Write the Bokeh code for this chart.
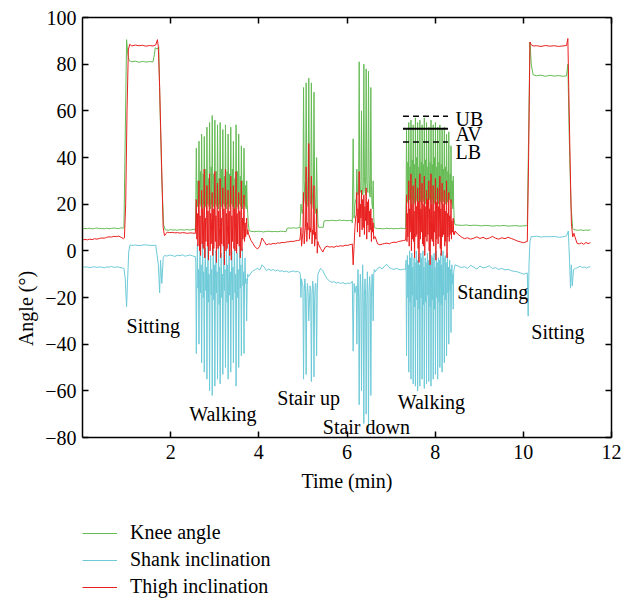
import numpy as np
from bokeh.plotting import figure
from bokeh.models import Legend, LegendItem, LinearAxis, FixedTicker, Range1d, Title
from bokeh.embed import file_html
from bokeh.resources import INLINE
from bokeh.core.properties import value

# ---------------- data (time in min, angle in degrees) ----------------
# Knee angle
knee_rest0 = [9.4, 9.6, 9.5, 9.7, 9.4, 9.6, 9.8, 9.5, 9.6, 9.4, 9.7, 9.5, 9.6, 9.8, 9.6, 9.5, 9.9, 9.7]
knee_sit1_t = [0.94, 0.97, 1.00, 1.03, 1.06, 1.12, 1.20, 1.28, 1.36, 1.44, 1.52, 1.60, 1.63, 1.65, 1.70, 1.73, 1.76, 1.80, 1.84, 1.88]
knee_sit1 = [10.0, 50.0, 90.5, 84.0, 81.5, 81.0, 81.3, 80.8, 81.2, 80.9, 81.1, 81.0, 84.0, 87.0, 86.5, 87.5, 60.0, 30.0, 11.0, 9.0]
knee_rest1 = [9.0, 8.8, 9.1, 8.9, 9.0, 8.8, 9.1, 9.0, 8.9, 9.1, 9.0, 8.9, 9.2, 9.0]
knee_walk1 = [20, 44, 24, 19, 30, 18, 47, 26, 20, 34, 19, 50, 25, 18, 33, 20, 49, 27, 19, 35,
              18, 53, 24, 20, 31, 19, 55, 28, 18, 36, 20, 58, 26, 19, 33, 18, 56, 25, 20, 34,
              19, 54, 27, 18, 31, 20, 55, 24, 19, 35, 18, 52, 26, 20, 32, 19, 54, 28, 18, 34,
              20, 50, 25, 19, 33, 18, 53, 27, 20, 35, 19, 47, 24, 18, 31, 20, 54, 26, 19, 34,
              18, 50, 25, 20, 32, 19, 45, 27, 18, 30, 20, 44, 24, 19, 28, 18, 30, 20, 16, 12]
knee_rest2a = [8.6, 8.3, 8.2, 8.4, 8.3, 8.1, 8.3, 8.4, 8.2, 8.3, 8.2, 8.4, 8.3, 8.2]
knee_rest2b = [9.6, 9.8, 9.7, 9.9, 9.7, 9.8, 10.0]
knee_stairup = [12, 20, 18, 16, 18, 70, 30, 22, 20, 72, 35, 24, 19, 74, 32, 22,
                20, 72, 30, 21, 18, 68, 28, 20, 16, 40, 20, 12]
knee_rest3a = [10.2, 10.0, 10.1, 10.0]
knee_rest3b = [12.8, 13.0, 12.9, 13.1, 13.0, 12.9, 13.2, 13.0, 13.1, 12.9, 13.0, 13.1]
knee_stairdn_a = [12, 48, 14, 20, 22]
knee_stairdn_b = [22, 35, 25, 24, 24, 81, 30, 26, 25, 60, 28, 24, 26, 80, 32, 25,
                  24, 78, 30, 26, 25, 77, 33, 24, 23, 70, 28, 20, 18, 30, 14, 10]
knee_rest4 = [9.8, 9.5, 9.6, 9.4, 9.5, 9.7, 9.5, 9.6, 9.4, 9.6, 9.5, 9.7, 9.6, 9.5]
knee_walk2 = [22, 52, 30, 21, 38, 20, 55, 32, 22, 36, 21, 56, 29, 20, 39, 22, 54, 31, 21, 37,
              20, 57, 33, 22, 40, 21, 55, 30, 20, 36, 22, 56, 32, 21, 38, 20, 54, 29, 22, 37,
              21, 57, 31, 20, 39, 22, 55, 33, 21, 36, 20, 53, 30, 22, 38, 21, 56, 32, 20, 37,
              22, 54, 29, 21, 40, 20, 55, 31, 22, 36, 21, 53, 33, 20, 38, 22, 54, 30, 21, 37,
              20, 52, 32, 22, 35, 21, 53, 29, 20, 36, 22, 50, 31, 21, 34, 20, 51, 28, 22, 33,
              21, 45, 26, 20, 30, 18, 32, 20, 14, 12]
knee_rest5 = [11.2, 11.0, 10.9, 11.1, 10.8, 11.0, 10.9, 10.7, 10.9, 10.8, 10.6, 10.8, 10.7, 10.9,
              10.6, 10.7, 10.8, 10.6, 10.7, 10.8]
knee_sit2_t = [10.09, 10.12, 10.15, 10.18, 10.22, 10.30, 10.40, 10.50, 10.60, 10.70, 10.80, 10.90,
               10.98, 11.01, 11.04, 11.08, 11.12]
knee_sit2 = [10.8, 50.0, 89.5, 80.0, 75.5, 75.0, 75.3, 74.8, 75.2, 74.9, 75.1, 74.8, 75.0, 80.0, 50.0, 20.0, 9.5]
knee_rest6 = [9.2, 8.9, 8.8, 9.0, 8.7, 8.9, 8.8, 9.0]

# Thigh inclination
thigh_rest0 = [4.6, 4.9, 4.7, 5.0, 4.8, 5.2, 5.0, 5.3, 5.5, 5.4, 5.8, 6.0, 5.9, 6.2, 6.1, 6.3, 5.8, 5.2]
thigh_sit1_t = [0.95, 0.98, 1.01, 1.04, 1.07, 1.12, 1.20, 1.28, 1.36, 1.44, 1.52, 1.60, 1.66, 1.70,
                1.72, 1.75, 1.79, 1.83, 1.86, 1.90]
thigh_sit1 = [5.5, 20, 60, 86, 88.5, 87.8, 88.2, 87.9, 88.1, 87.7, 88.0, 87.8, 88.2, 90.5, 87.5,
              70, 40, 10, 6.5, 7.5]
thigh_rest1 = [8.0, 7.8, 7.9, 7.7, 7.8, 7.6, 7.8, 7.7, 7.5, 7.7, 7.6, 7.5]
thigh_walk1 = [12, 22, 5, 16, 2, 14, 30, 0, 15, -2, 10, 26, 3, 18, 1, 13, 35, -3, 14, 4,
               15, 28, 2, 17, -4, 11, 33, 0, 16, 3, 14, 25, -2, 18, 1, 12, 34, 4, 15, -5,
               16, 29, 1, 17, 2, 10, 31, -3, 14, 3, 15, 27, 2, 18, -6, 13, 35, 0, 16, 1,
               11, 26, 3, 17, -2, 14, 32, -4, 15, 4, 16, 28, 1, 18, 0, 12, 34, -1, 16, 3,
               15, 25, 2, 17, -3, 13, 30, 0, 14, 5, 11, 24, 4, 12, 6, 10, 14, 7, 9, 8]
thigh_rest2 = [7.0, 4.5, 3.0, 1.5, 0.8, 2.0, 5.5, 4.0, 2.5, 3.0, 2.8, 3.2, 3.0, 3.4, 3.3, 3.6,
               3.5, 3.8, 3.9, 4.1, 4.0, 4.3, 4.4, 4.6]
thigh_stairup = [6, 10, 2, 5, 8, 25, 3, 8, 10, 36, 4, 12, 9, 46, 5, 10,
                 8, 32, 3, 9, 7, 28, 2, 8, 5, 18, -1, 4]
thigh_rest3 = [3.0, 1.0, -0.5, 1.5, 2.0, 1.6, 1.8, 1.5, 2.0, 1.9, 2.2, 2.0, 2.4, 2.3, 2.6, 2.8]
thigh_stairdn_a = [3, -6, 2, 10, 15]
thigh_stairdn_b = [15, 25, 8, 18, 12, 34, 6, 20, 14, 26, 9, 22, 10, 24, 7, 19,
                   13, 27, 5, 21, 11, 22, 8, 17, 9, 18, 4, 14, 8, 12, 5, 6]
thigh_rest4 = [6.0, 3.0, 2.6, 2.9, 3.1, 3.3, 3.0, 3.5, 3.7, 3.6, 4.0, 4.2, 4.4, 4.6]
thigh_walk2 = [10, 24, 4, 16, 6, 14, 30, 2, 18, 8, 12, 33, 0, 20, 5, 16, 28, 4, 17, -3,
               13, 31, 6, 19, 7, 15, 27, 1, 21, -5, 11, 33, 5, 18, 8, 17, 29, 3, 20, 2,
               14, 32, -2, 19, 6, 12, 26, 4, 22, 7, 16, 30, 0, 18, -6, 13, 33, 5, 20, 4,
               15, 28, 2, 17, 8, 12, 31, -4, 21, 5, 16, 27, 3, 19, 6, 14, 32, 1, 18, -2,
               11, 29, 6, 20, 7, 15, 26, 2, 17, 4, 13, 30, -3, 16, 6, 12, 25, 4, 15, 7,
               10, 22, 5, 13, 8, 9, 14, 7, 8, 7]
thigh_rest5 = [8.5, 7.0, 6.0, 5.2, 5.6, 5.0, 5.4, 6.0, 5.3, 5.8, 5.1, 5.5, 6.2, 5.4, 5.0, 5.6,
               5.2, 5.8, 5.3, 4.8, 4.2, 3.8, 3.5, 4.0]
thigh_sit2_t = [10.09, 10.12, 10.15, 10.18, 10.22, 10.30, 10.40, 10.50, 10.60, 10.70, 10.80, 10.90,
                10.98, 11.01, 11.03, 11.06, 11.09, 11.12, 11.15]
thigh_sit2 = [4.0, 40, 89.5, 88.3, 87.8, 87.9, 87.6, 88.0, 87.7, 87.9, 87.6, 87.8, 88.0, 91.0,
              70, 40, 12, 6, 7.5]
thigh_rest6 = [6.0, 3.2, 3.0, 3.4, 2.8, 3.6, 3.1, 3.5]

# Shank inclination
shank_rest0 = [-6.8, -7.0, -6.9, -7.2, -7.0, -6.8, -7.1, -6.9, -7.0, -7.3, -6.9, -7.0, -6.7, -7.1,
               -6.9, -7.0, -7.2, -7.5]
shank_sit1_t = [0.94, 0.97, 1.00, 1.02, 1.05, 1.08, 1.12, 1.20, 1.30, 1.40, 1.50, 1.60, 1.66, 1.69,
                1.72, 1.75, 1.77, 1.80, 1.83, 1.86, 1.90]
shank_sit1 = [-7.5, -12, -24, -14, 0, 2.6, 2.3, 2.5, 2.2, 2.6, 2.4, 2.3, 2.5, -1.5, -6, -18, -4,
              -14, -3, -2.0, -2.2]
shank_rest1 = [-2.2, -1.8, -2.0, -2.4, -1.9, -2.1, -1.7, -2.3, -2.0, -1.8, -2.2, -2.5]
shank_walk1 = [-5, -44, -14, 3, -16, -8, -40, -12, 0, -18, -6, -48, -15, 4, -20, -9, -52, -11, 1, -17,
               -7, -55, -16, 2, -22, -10, -60, -13, -2, -19, -8, -62, -17, 3, -21, -6, -58, -12, 0, -18,
               -9, -55, -15, 2, -23, -7, -57, -14, -1, -20, -10, -53, -11, 3, -17, -8, -50, -16, 1, -22,
               -6, -55, -13, 4, -19, -9, -52, -15, 0, -21, -7, -48, -12, 2, -18, -10, -58, -17, -1, -20,
               -8, -50, -14, 3, -16, -6, -45, -11, 1, -15, -9, -44, -13, -3, -14, -12, -30, -15, -10, -11]
shank_rest2 = [-11, -9.5, -8.5, -8.0, -7.5, -8.2, -6.0, -7.0, -8.5, -7.8, -8.4, -8.0, -8.6, -8.2,
               -8.8, -8.5, -9.0, -8.7, -9.2, -8.9, -8.6, -9.0, -8.8, -9.3]
shank_stairup = [-10, -20, -12, -14, -15, -55, -18, -12, -16, -53, -20, -14, -18, -30, -22, -15,
                 -17, -56, -19, -13, -16, -54, -21, -14, -14, -45, -18, -10]
shank_rest3 = [-9.5, -7.5, -8.5, -10.5, -12.0, -13.0, -13.5, -13.2, -13.8, -13.5, -14.0, -13.6,
               -14.2, -13.8, -14.0, -13.5]
shank_stairdn_a = [-13, -43, -14, -18, -16]
shank_stairdn_b = [-15, -40, -18, -8, -20, -66, -22, -10, -18, -60, -25, -6, -22, -74, -20, -12,
                   -19, -70, -24, -9, -21, -77, -18, -11, -17, -62, -20, -10, -12, -30, -10, -8]
shank_rest4 = [-9, -7.5, -7.0, -7.8, -6.5, -5.8, -7.2, -7.6, -8.0, -7.5, -7.9, -8.2, -7.8, -8.0]
shank_walk2 = [-4, -45, -15, -2, -20, -6, -52, -18, 0, -22, -3, -55, -14, -1, -19, -7, -57, -20, -3, -24,
               -5, -58, -16, 0, -21, -4, -60, -19, -2, -25, -6, -58, -15, -1, -20, -3, -55, -21, 0, -23,
               -7, -59, -17, -3, -22, -5, -57, -14, -1, -19, -4, -56, -20, 0, -24, -6, -58, -16, -2, -21,
               -3, -55, -18, -1, -25, -7, -53, -15, 0, -20, -5, -55, -19, -3, -22, -4, -50, -17, -1, -23,
               -6, -52, -14, 0, -19, -3, -48, -20, -2, -21, -5, -45, -16, -1, -18, -7, -40, -15, -4, -17,
               -8, -35, -12, -6, -14, -10, -25, -9, -8, -7]
shank_rest5 = [-6.0, -6.5, -7.2, -6.8, -7.5, -6.2, -7.0, -7.8, -6.5, -7.3, -7.0, -6.4, -7.6, -7.2,
               -8.0, -7.5, -8.2, -7.9, -8.5, -8.8, -9.0, -9.5, -10.0, -9.5]
shank_sit2_t = [10.09, 10.11, 10.13, 10.15, 10.18, 10.22, 10.30, 10.40, 10.50, 10.60, 10.70, 10.80,
                10.90, 10.98, 11.02, 11.05, 11.07, 11.09, 11.11, 11.14, 11.18]
shank_sit2 = [-9.5, -28, -5, 4, 6.2, 6.0, 6.3, 5.9, 6.1, 6.0, 6.2, 5.8, 6.0, 6.4, 8.5, -5, -16, -6,
              -15, -8, -7.5]
shank_rest6 = [-7.5, -7.0, -6.6, -7.2, -6.9, -7.4, -7.0, -6.8]

# Annotations
activity_labels = ["Sitting", "Walking", "Stair up", "Stair down", "Walking", "Standing", "Sitting"]
activity_x = [1.00, 2.42, 4.42, 5.45, 7.15, 8.50, 10.18]
activity_y = [-32.0, -69.9, -63.0, -75.3, -64.9, -17.7, -34.9]
bound_labels = ["UB", "AV", "LB"]
bound_text_x = [8.46, 8.46, 8.46]
bound_text_y = [56.3, 50.1, 42.3]
bound_x0 = [7.27, 7.27, 7.27]
bound_x1 = [8.29, 8.29, 8.29]
bound_y = [57.7, 52.3, 46.6]

x_ticks = [2, 4, 6, 8, 10, 12]
y_ticks = [-80, -60, -40, -20, 0, 20, 40, 60, 80, 100]
x_min, x_max = 0, 12
y_min, y_max = -80, 100


def assemble(pieces):
    ts, vs = [], []
    for pc in pieces:
        if len(pc) == 3:
            t0, t1, vals = pc
            ts += list(np.linspace(t0, t1, len(vals)))
        else:
            tl, vals = pc
            ts += list(tl)
        vs += list(vals)
    return ts, vs


knee_x, knee_y = assemble([
    (0.00, 0.93, knee_rest0), (knee_sit1_t, knee_sit1), (1.90, 2.56, knee_rest1),
    (2.57, 3.76, knee_walk1), (3.78, 4.62, knee_rest2a), (4.64, 4.93, knee_rest2b),
    (4.94, 5.34, knee_stairup), (5.35, 5.46, knee_rest3a), (5.48, 6.11, knee_rest3b),
    (6.12, 6.20, knee_stairdn_a), (6.21, 6.62, knee_stairdn_b), (6.64, 7.33, knee_rest4),
    (7.34, 8.44, knee_walk2), (8.45, 10.08, knee_rest5), (knee_sit2_t, knee_sit2),
    (11.14, 11.52, knee_rest6)])
thigh_x, thigh_y = assemble([
    (0.00, 0.93, thigh_rest0), (thigh_sit1_t, thigh_sit1), (1.92, 2.56, thigh_rest1),
    (2.57, 3.76, thigh_walk1), (3.77, 4.93, thigh_rest2), (4.94, 5.34, thigh_stairup),
    (5.35, 6.11, thigh_rest3), (6.12, 6.20, thigh_stairdn_a), (6.21, 6.62, thigh_stairdn_b),
    (6.64, 7.33, thigh_rest4), (7.34, 8.44, thigh_walk2), (8.45, 10.08, thigh_rest5),
    (thigh_sit2_t, thigh_sit2), (11.17, 11.52, thigh_rest6)])
shank_x, shank_y = assemble([
    (0.00, 0.93, shank_rest0), (shank_sit1_t, shank_sit1), (1.92, 2.56, shank_rest1),
    (2.57, 3.76, shank_walk1), (3.77, 4.93, shank_rest2), (4.94, 5.34, shank_stairup),
    (5.35, 6.11, shank_rest3), (6.12, 6.20, shank_stairdn_a), (6.21, 6.62, shank_stairdn_b),
    (6.64, 7.33, shank_rest4), (7.34, 8.44, shank_walk2), (8.45, 10.08, shank_rest5),
    (shank_sit2_t, shank_sit2), (11.20, 11.52, shank_rest6)])

FONT = "Liberation Serif"
FS = "20px"
KNEE_C, SHANK_C, THIGH_C = "#66bb55", "#6ecad8", "#e8201f"

# The frame covers the whole page right/below the axes box so that the legend and the
# edge tick labels (drawn inside it) are not clipped; the visible box uses axis bounds.
BOX_W, BOX_H = 529, 420
FRAME_W, FRAME_H = 540, 582
x_high = x_min + FRAME_W * (x_max - x_min) / BOX_W
y_low = y_max - FRAME_H * (y_max - y_min) / BOX_H

p = figure(frame_width=FRAME_W, frame_height=FRAME_H, x_range=Range1d(x_min, x_high),
           y_range=Range1d(y_low, y_max),
           output_backend="svg", toolbar_location=None,
           min_border_left=82, min_border_right=0, min_border_top=17, min_border_bottom=0)
p.xgrid.grid_line_color = None
p.ygrid.grid_line_color = None
p.outline_line_color = None
p.background_fill_color = "white"

r_knee = p.line(knee_x, knee_y, line_color=KNEE_C, line_width=1)
r_shank = p.line(shank_x, shank_y, line_color=SHANK_C, line_width=1)
r_thigh = p.line(thigh_x, thigh_y, line_color=THIGH_C, line_width=1)

p.text(x=activity_x, y=activity_y, text=activity_labels, text_font=value(FONT),
       text_font_size=value(FS), text_align="left", text_baseline="alphabetic", text_color="black")
p.text(x=bound_text_x, y=bound_text_y, text=bound_labels, text_font=value(FONT),
       text_font_size=value(FS), text_align="left", text_baseline="alphabetic", text_color="black")
p.segment(x0=[bound_x0[0], bound_x0[2]], x1=[bound_x1[0], bound_x1[2]],
          y0=[bound_y[0], bound_y[2]], y1=[bound_y[0], bound_y[2]],
          line_color="black", line_width=1.5, line_dash="6 4")
p.segment(x0=[bound_x0[1]], x1=[bound_x1[1]], y0=[bound_y[1]], y1=[bound_y[1]],
          line_color="black", line_width=2)


def style_axis(ax, labels=True):
    ax.major_tick_in = 6
    ax.major_tick_out = 0
    ax.minor_tick_line_color = None
    ax.axis_line_width = 1.5
    ax.axis_line_color = "black"
    ax.major_tick_line_color = "black"
    ax.major_tick_line_width = 1.5
    if labels:
        ax.major_label_text_font = FONT
        ax.major_label_text_font_size = FS
        ax.major_label_text_color = "black"
        ax.axis_label_text_font = FONT
        ax.axis_label_text_font_size = FS
        ax.axis_label_text_font_style = "normal"
        ax.axis_label_text_color = "black"
    else:
        ax.major_label_text_color = None
        ax.major_label_standoff = 0


xa = p.xaxis[0]
ya = p.yaxis[0]
xa.ticker = FixedTicker(ticks=x_ticks)
ya.ticker = FixedTicker(ticks=y_ticks)
style_axis(xa)
style_axis(ya)
xa.fixed_location = y_min
xa.bounds = (x_min, x_max)
ya.bounds = (y_min, y_max)
xa.axis_label = "Time (min)"
xa.major_label_standoff = 7
xa.axis_label_standoff = 8
ya.major_label_standoff = 6

# y-axis title, centred on the visible axes box rather than on the whole frame
y_title = Title(text="Angle (°)", align="center", offset=(FRAME_H - BOX_H) / 2,
                text_font=FONT, text_font_size=FS, text_font_style="normal",
                text_color="black", standoff=12)
p.add_layout(y_title, "left")

top = LinearAxis(ticker=FixedTicker(ticks=x_ticks), bounds=(x_min, x_max))
right = LinearAxis(ticker=FixedTicker(ticks=y_ticks), bounds=(y_min, y_max), fixed_location=x_max)
style_axis(top, labels=False)
style_axis(right, labels=False)
p.add_layout(top, "above")
p.add_layout(right, "right")

# one single-entry legend per series, stacked below the axes box
ROW = 27
for i, (lab, rend) in enumerate([("Knee angle", r_knee), ("Shank inclination", r_shank),
                                  ("Thigh inclination", r_thigh)]):
    lg = Legend(items=[LegendItem(label=lab, renderers=[rend])],
                location=(0, 1 + (2 - i) * ROW), orientation="vertical",
                glyph_width=35, glyph_height=20, label_height=20, label_standoff=13,
                spacing=0, padding=0, margin=0, border_line_color=None,
                background_fill_alpha=0, label_text_font=FONT, label_text_font_size=FS,
                label_text_color="black")
    p.add_layout(lg, "center")

open("out.html", "w").write(file_html(p, INLINE))
